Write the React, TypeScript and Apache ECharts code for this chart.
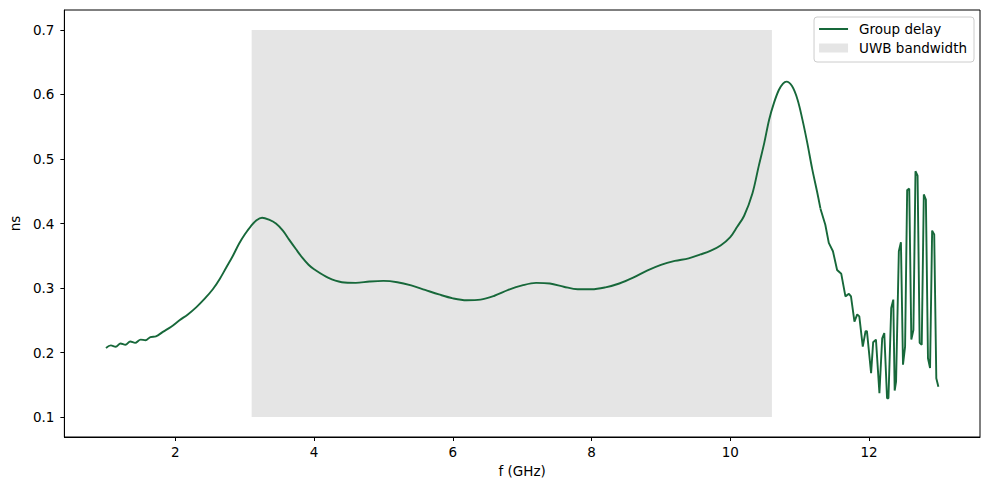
import React, { useEffect, useRef } from "react";
import * as echarts from "echarts";

// Smooth part of the group delay curve (GHz, ns)
const smoothFreq = [
  1.0, 1.07, 1.14, 1.21, 1.28, 1.35, 1.42, 1.5, 1.57, 1.64, 1.72, 1.82, 1.94, 2.06, 2.18, 2.3, 2.42, 2.54,
  2.64, 2.73, 2.83, 2.92, 3.0, 3.09, 3.17, 3.25, 3.35, 3.45, 3.55, 3.64, 3.74, 3.83, 3.92, 4.0, 4.2, 4.4,
  4.6, 4.8, 5.0, 5.2, 5.4, 5.6, 5.8, 6.0, 6.2, 6.4, 6.6, 6.8, 7.0, 7.2, 7.4, 7.6, 7.8, 8.0, 8.2, 8.4, 8.6,
  8.8, 9.0, 9.2, 9.4, 9.57, 9.72, 9.86, 10.0, 10.1, 10.2, 10.32, 10.41, 10.49, 10.56, 10.63, 10.7, 10.76,
  10.81, 10.89, 10.97, 11.04, 11.11, 11.18, 11.25, 11.3,
];
const smoothDelay = [
  0.207, 0.211, 0.209, 0.214, 0.212, 0.217, 0.215, 0.22, 0.219, 0.224, 0.225, 0.232, 0.24, 0.25, 0.259,
  0.27, 0.283, 0.298, 0.314, 0.331, 0.35, 0.369, 0.383, 0.396, 0.405, 0.409, 0.406, 0.4, 0.389, 0.375,
  0.36, 0.347, 0.336, 0.329, 0.316, 0.309, 0.308, 0.31, 0.311, 0.309, 0.304, 0.297, 0.29, 0.284, 0.281,
  0.282, 0.288, 0.297, 0.304, 0.308, 0.307, 0.302, 0.298, 0.298, 0.301, 0.307, 0.316, 0.327, 0.336,
  0.342, 0.346, 0.352, 0.358, 0.366, 0.379, 0.395, 0.412, 0.447, 0.489, 0.525, 0.561, 0.587, 0.607,
  0.617, 0.62, 0.613, 0.592, 0.561, 0.525, 0.485, 0.45, 0.423,
];

// Oscillating tail (GHz, ns)
const tailFreq = [
  11.3, 11.37, 11.42, 11.48, 11.54, 11.6, 11.66, 11.71, 11.74, 11.79, 11.83, 11.86, 11.91, 11.95, 11.97,
  12.03, 12.06, 12.1, 12.15, 12.19, 12.22, 12.26, 12.28, 12.32, 12.35, 12.37, 12.39, 12.43, 12.46, 12.49,
  12.52, 12.55, 12.58, 12.61, 12.64, 12.67, 12.7, 12.73, 12.76, 12.79, 12.82, 12.85, 12.88, 12.91, 12.94,
  12.97, 13.0,
];
const tailDelay = [
  0.423, 0.398, 0.37, 0.357, 0.328, 0.322, 0.287, 0.291, 0.287, 0.248, 0.259, 0.256, 0.209, 0.233, 0.233,
  0.168, 0.216, 0.22, 0.137, 0.222, 0.23, 0.129, 0.129, 0.269, 0.282, 0.141, 0.155, 0.357, 0.371, 0.181,
  0.209, 0.452, 0.454, 0.22, 0.235, 0.481, 0.474, 0.215, 0.212, 0.445, 0.437, 0.191, 0.176, 0.389, 0.383,
  0.16, 0.147,
];

// UWB band: [fStart, fEnd, yLow, yHigh]
const uwbBand = [3.1, 10.6, 0.1, 0.7];

const xTicks = [2, 4, 6, 8, 10, 12];
const yTicks = [0.1, 0.2, 0.3, 0.4, 0.5, 0.6, 0.7];

const LINE_COLOR = "#17683a";
const BAND_COLOR = "#e5e5e5";
const FONT = "DejaVu Sans";

export default function App() {
  const ref = useRef<HTMLDivElement>(null);
  useEffect(() => {
    if (!ref.current) return;
    const chart = echarts.init(ref.current, null, { renderer: "svg" });
    const smoothData = smoothFreq.map((f, i) => [f, smoothDelay[i]]);
    const tailData = tailFreq.map((f, i) => [f, tailDelay[i]]);
    chart.setOption({
      animation: false,
      backgroundColor: "#ffffff",
      textStyle: { fontFamily: FONT },
      grid: {
        left: 61,
        right: 9,
        top: 10,
        bottom: 53,
        show: true,
        borderColor: "#000",
        borderWidth: 1,
        backgroundColor: "transparent",
      },
      legend: {
        orient: "vertical",
        right: 15,
        top: 17,
        padding: [5, 7, 7, 4],
        itemWidth: 29,
        itemHeight: 9,
        itemGap: 5,
        borderColor: "#cccccc",
        borderWidth: 1,
        borderRadius: 3,
        backgroundColor: "rgba(255,255,255,0.8)",
        textStyle: {
          fontFamily: FONT,
          fontSize: 13.5,
          color: "#000",
          lineHeight: 14,
          padding: [0, 0, 0, 6],
        },
        data: [
          { name: "Group delay", itemStyle: { opacity: 0 } },
          { name: "UWB bandwidth", icon: "rect" },
        ],
      },
      xAxis: {
        type: "value",
        min: 0.4,
        max: 13.6,
        name: "f (GHz)",
        nameLocation: "middle",
        nameGap: 27,
        nameTextStyle: { fontFamily: FONT, fontSize: 13.5, color: "#000" },
        axisLine: { show: true, lineStyle: { color: "#000", width: 1 } },
        axisTick: {
          show: true,
          length: 4,
          lineStyle: { color: "#000", width: 1 },
          customValues: xTicks,
        },
        axisLabel: {
          fontFamily: FONT,
          fontSize: 13.5,
          color: "#000",
          margin: 8,
          customValues: xTicks,
          formatter: (v: number) => String(v),
        },
        splitLine: { show: false },
      },
      yAxis: {
        type: "value",
        min: 0.069,
        max: 0.731,
        name: "ns",
        nameLocation: "middle",
        nameGap: 38,
        nameTextStyle: { fontFamily: FONT, fontSize: 13.5, color: "#000" },
        axisLine: { show: true, lineStyle: { color: "#000", width: 1 } },
        axisTick: {
          show: true,
          length: 4,
          lineStyle: { color: "#000", width: 1 },
          customValues: yTicks,
        },
        axisLabel: {
          fontFamily: FONT,
          fontSize: 13.5,
          color: "#000",
          margin: 10,
          customValues: yTicks,
          formatter: (v: number) => v.toFixed(1),
        },
        splitLine: { show: false },
      },
      series: [
        {
          name: "UWB bandwidth",
          type: "custom",
          z: 1,
          itemStyle: { color: BAND_COLOR },
          encode: { x: [0, 1], y: [2, 3] },
          data: [uwbBand],
          renderItem: (params: any, api: any) => {
            const p1 = api.coord([api.value(0), api.value(3)]);
            const p2 = api.coord([api.value(1), api.value(2)]);
            return {
              type: "rect",
              shape: { x: p1[0], y: p1[1], width: p2[0] - p1[0], height: p2[1] - p1[1] },
              style: { fill: BAND_COLOR },
            };
          },
        },
        {
          name: "Group delay",
          type: "line",
          z: 3,
          data: smoothData,
          smooth: 0.35,
          symbol: "none",
          color: LINE_COLOR,
          lineStyle: { color: LINE_COLOR, width: 1.9 },
        },
        {
          name: "Group delay",
          type: "line",
          z: 3,
          data: tailData,
          smooth: false,
          symbol: "none",
          color: LINE_COLOR,
          lineStyle: { color: LINE_COLOR, width: 1.9 },
        },
      ],
    });
    return () => chart.dispose();
  }, []);
  return (
    <div
      ref={ref}
      style={{ position: "fixed", left: 0, top: 0, width: 989, height: 490 }}
    />
  );
}
